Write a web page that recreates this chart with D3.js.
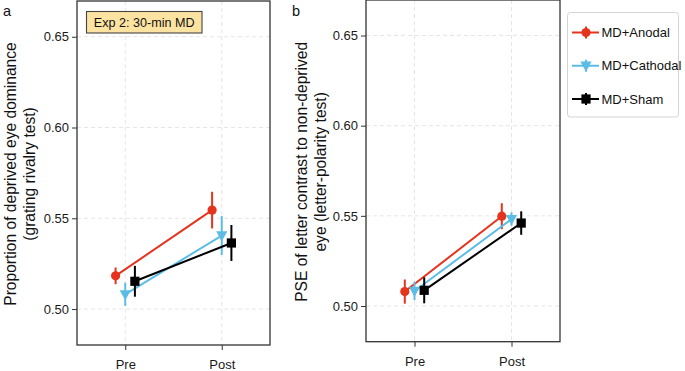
<!DOCTYPE html>
<html>
<head>
<meta charset="utf-8">
<script src="https://cdn.jsdelivr.net/npm/d3@7"></script>
<style>
  html, body { margin: 0; padding: 0; background: #fff; }
  svg { display: block; font-family: "Liberation Sans", Arial, Helvetica, sans-serif; }
</style>
</head>
<body>
<svg id="chart" width="685" height="371"></svg>
<script>
// ---------- data ----------
const conditions = ["Pre", "Post"];
const groups = ["MD+Anodal", "MD+Cathodal", "MD+Sham"];
const groupColors = ["#E5341D", "#5BBDE6", "#000000"];
const groupShapes = ["circle", "triangleDown", "square"];
const dodgeOffsets = [-0.1, 0, 0.1];

// panel a: proportion of deprived eye dominance (grating rivalry test)
const aMeans = {
  "MD+Anodal":   [0.5183, 0.5545],
  "MD+Cathodal": [0.5081, 0.5405],
  "MD+Sham":     [0.5153, 0.5364]
};
const aErrors = {
  "MD+Anodal":   [0.0046, 0.0101],
  "MD+Cathodal": [0.0064, 0.0107],
  "MD+Sham":     [0.0085, 0.0099]
};
// panel b: PSE of letter contrast (letter-polarity test)
const bMeans = {
  "MD+Anodal":   [0.5080, 0.5498],
  "MD+Cathodal": [0.5083, 0.5482],
  "MD+Sham":     [0.5087, 0.5460]
};
const bErrors = {
  "MD+Anodal":   [0.0067, 0.0072],
  "MD+Cathodal": [0.0051, 0.0037],
  "MD+Sham":     [0.0072, 0.0065]
};
const yTicks = [0.50, 0.55, 0.60, 0.65];
const yDomain = [0.4802, 0.6697];

const svg = d3.select("#chart");

function drawPanel(opt) {
  const { left, right, top, bottom, means, errors, letter, letterX, titleLines, titleX, annotation } = opt;
  const g = svg.append("g");

  const x = d3.scalePoint().domain(conditions).range([left, right]).padding(0.5);
  const y = d3.scaleLinear().domain(yDomain).range([bottom, top]);
  const step = x.step();

  // grid
  g.append("g").selectAll("line.hg").data(yTicks).join("line")
    .attr("x1", left).attr("x2", right)
    .attr("y1", d => y(d)).attr("y2", d => y(d))
    .attr("stroke", "#e6e6e6").attr("stroke-width", 1).attr("stroke-dasharray", "4,3");
  g.append("g").selectAll("line.vg").data(conditions).join("line")
    .attr("x1", d => x(d)).attr("x2", d => x(d))
    .attr("y1", top).attr("y2", bottom)
    .attr("stroke", "#e6e6e6").attr("stroke-width", 1).attr("stroke-dasharray", "4,3");

  // axes
  const yAxis = d3.axisLeft(y).tickValues(yTicks).tickFormat(d3.format(".2f")).tickSize(5).tickPadding(3);
  const ya = g.append("g").attr("transform", `translate(${left},0)`).call(yAxis);
  ya.select(".domain").remove();
  ya.selectAll("text").attr("font-size", 13).attr("fill", "#1a1a1a").attr("font-family", "Liberation Sans, Arial, sans-serif");
  ya.selectAll("line").attr("stroke", "#333");

  const xAxis = d3.axisBottom(x).tickSize(5).tickPadding(10);
  const xa = g.append("g").attr("transform", `translate(0,${bottom})`).call(xAxis);
  xa.select(".domain").remove();
  xa.selectAll("text").attr("font-size", 13).attr("fill", "#1a1a1a").attr("font-family", "Liberation Sans, Arial, sans-serif");
  xa.selectAll("line").attr("stroke", "#333");

  // border
  g.append("rect").attr("x", left).attr("y", top).attr("width", right - left).attr("height", bottom - top)
    .attr("fill", "none").attr("stroke", "#333").attr("stroke-width", 1.3);

  // data
  groups.forEach((grp, gi) => {
    const col = groupColors[gi];
    const pts = conditions.map((c, ci) => ({
      x: x(c) + dodgeOffsets[gi] * step,
      m: means[grp][ci], e: errors[grp][ci]
    }));
    g.append("path")
      .attr("d", d3.line().x(d => d.x).y(d => y(d.m))(pts))
      .attr("fill", "none").attr("stroke", col).attr("stroke-width", 2);
    g.selectAll(null).data(pts).join("line")
      .attr("x1", d => d.x).attr("x2", d => d.x)
      .attr("y1", d => y(d.m - d.e)).attr("y2", d => y(d.m + d.e))
      .attr("stroke", col).attr("stroke-width", 2);
    pts.forEach(p => drawMarker(g, groupShapes[gi], p.x, y(p.m), col));
  });

  // y title
  const t = g.append("text")
    .attr("transform", `translate(${titleX},${(top + bottom) / 2 + 1}) rotate(-90)`)
    .attr("text-anchor", "middle").attr("font-size", 15.6).attr("fill", "#111");
  titleLines.forEach((ln, i) => {
    t.append("tspan").attr("x", 0).attr("dy", i === 0 ? 0 : 19).text(ln);
  });

  // panel letter
  svg.append("text").attr("x", letterX).attr("y", 16).attr("font-size", 14.5).attr("fill", "#111").text(letter);

  if (annotation) {
    const ag = g.append("g");
    ag.append("rect").attr("x", 86.5).attr("y", 11.5).attr("width", 115.5).attr("height", 21.5)
      .attr("fill", "#FCE3A2").attr("stroke", "#444").attr("stroke-width", 1.1);
    ag.append("text").attr("x", 144.2).attr("y", 27).attr("text-anchor", "middle")
      .attr("font-size", 12.6).attr("fill", "#111").text(annotation);
  }
}

function drawMarker(g, shape, cx, cy, col) {
  if (shape === "circle") {
    g.append("circle").attr("cx", cx).attr("cy", cy).attr("r", 4.6).attr("fill", col);
  } else if (shape === "square") {
    g.append("rect").attr("x", cx - 4.6).attr("y", cy - 4.6).attr("width", 9.2).attr("height", 9.2).attr("fill", col);
  } else {
    const s = 5.6;
    g.append("path")
      .attr("d", `M${cx - s},${cy - s * 0.75}L${cx + s},${cy - s * 0.75}L${cx},${cy + s * 1.05}Z`)
      .attr("fill", col);
  }
}

drawPanel({
  left: 77, right: 270, top: 1, bottom: 345,
  means: aMeans, errors: aErrors, letter: "a", letterX: 3,
  titleLines: ["Proportion of deprived eye dominance", "(grating rivalry test)"], titleX: 15.5,
  annotation: "Exp 2: 30-min MD"
});
drawPanel({
  left: 366, right: 560, top: 0, bottom: 341.7,
  means: bMeans, errors: bErrors, letter: "b", letterX: 292,
  titleLines: ["PSE of letter contrast to non-deprived", "eye (letter-polarity test)"], titleX: 307,
  annotation: null
});

// legend
const lg = svg.append("g");
lg.append("rect").attr("x", 567.5).attr("y", 12.5).attr("width", 111).attr("height", 104.5).attr("rx", 3)
  .attr("fill", "#fff").attr("stroke", "#d4d4d4").attr("stroke-width", 1);
const legY = d3.scalePoint().domain(groups).range([32.5, 99]);
groups.forEach((grp, gi) => {
  const yy = legY(grp), col = groupColors[gi];
  lg.append("line").attr("x1", 572).attr("x2", 599).attr("y1", yy).attr("y2", yy)
    .attr("stroke", col).attr("stroke-width", 2);
  lg.append("line").attr("x1", 586).attr("x2", 586).attr("y1", yy - 6).attr("y2", yy + 6)
    .attr("stroke", col).attr("stroke-width", 2);
  drawMarker(lg, groupShapes[gi], 586, yy, col);
  lg.append("text").attr("x", 601.5).attr("y", yy + 4.5).attr("font-size", 13).attr("fill", "#111").text(grp);
});
</script>
</body>
</html>
